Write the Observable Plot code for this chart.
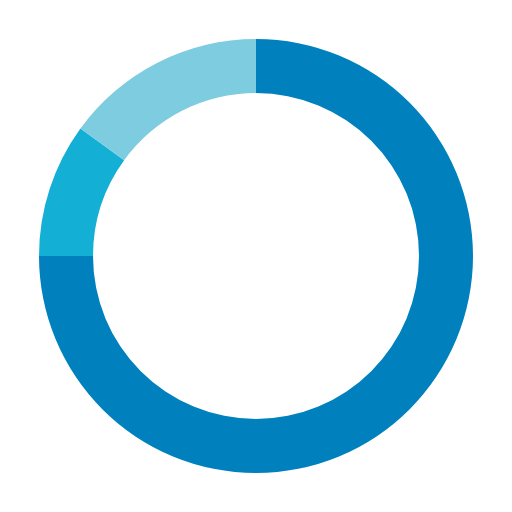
<!DOCTYPE html>
<html>
<head>
<meta charset="utf-8">
<script src="https://cdn.jsdelivr.net/npm/d3@7"></script>
<script src="https://cdn.jsdelivr.net/npm/@observablehq/plot@0.6"></script>
<style>
  html, body { margin: 0; padding: 0; background: #fff; }
</style>
</head>
<body>
<div id="chart"></div>
<script>
const categories = ["A", "B", "C"];
const values = [75, 10, 15];
const colors = ["#0080bc", "#14afd4", "#7ecce0"];

const data = categories.map((c, i) => ({category: c, value: values[i]}));

const color = Plot.scale({color: {type: "ordinal", domain: categories, range: colors}});

function donut(index, scales, vals, dimensions) {
  const {width, height} = dimensions;
  const outer = 217, inner = 163;
  const pie = d3.pie().sort(null).value(d => d.value);
  const arc = d3.arc().innerRadius(inner).outerRadius(outer);
  const g = d3.create("svg:g").attr("transform", `translate(${width / 2},${height / 2})`);
  g.selectAll("path")
    .data(pie(data))
    .join("path")
    .attr("d", arc)
    .attr("fill", d => color.apply(d.data.category));
  return g.node();
}

const chart = Plot.plot({
  width: 512,
  height: 512,
  margin: 0,
  x: {axis: null},
  y: {axis: null},
  marks: [donut]
});
document.getElementById("chart").append(chart);
</script>
</body>
</html>
